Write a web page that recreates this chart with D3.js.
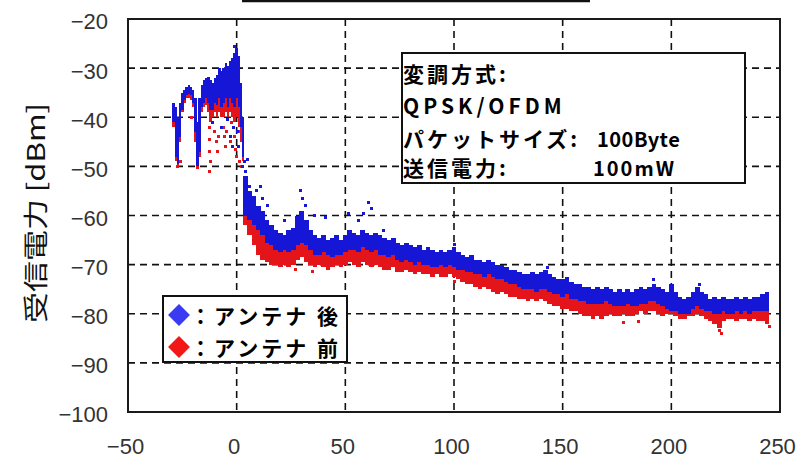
<!DOCTYPE html>
<html>
<head>
<meta charset="utf-8">
<script src="https://cdn.jsdelivr.net/npm/d3@7"></script>
<style>
  html, body { margin: 0; padding: 0; background: #fff; }
  svg { display: block; }
</style>
</head>
<body>
<svg id="chart" width="798" height="459"></svg>
<script>
// ---- axis ticks ----
const xTicks = [-50, 0, 50, 100, 150, 200, 250];
const yTicks = [-100, -90, -80, -70, -60, -50, -40, -30, -20];
const yTitle = "受信電力 [dBm]";
const seriesNames = ["：アンテナ 後", "：アンテナ 前"];
const infoLines = ["変調方式:", "QPSK/OFDM", "パケットサイズ:", "送信電力:"];
const infoValues = ["100Byte", "100mW"];

// ---- near sweep: 1 m sampling, received power envelope (hi / lo) ----
const nearX = d3.range(-29, 4, 1);
const nearBlueHi = [-37,-38,-40,-37,-35,-34.5,-33.8,-33.5,-33.8,-34.5,
                    -36,-41,-36,-33.5,-32.5,-32,-31.8,-32.5,-33,-32,
                    -31.5,-30,-30.5,-30,-29,-29.5,-28.5,-28,-27,-26,
                    -27.5,-33,-40];
const nearBlueLo = [-41,-48,-49.5,-44,-38.5,-36.5,-35.5,-35.2,-35.5,-37,
                    -43,-50,-47,-38,-37,-36,-37,-38.5,-38.5,-37,
                    -37.5,-36,-38,-37,-36,-38,-36,-37,-38,-36,
                    -38,-42,-48];
const nearRedHi  = [-38,-40,-42,-39,-36,-35.5,-35,-34.5,-35,-36,
                    -38,-43,-39,-35,-34,-33.5,-33,-34,-34.5,-33.5,
                    -33,-32,-32,-31.5,-31,-31,-30,-30,-29,-28,
                    -29,-35,-42];
const nearRedLo  = [-42,-49,-50,-45,-39,-37,-36,-36,-36.5,-38,
                    -45,-50.5,-48,-39,-38,-37.5,-39,-41,-40,-39,
                    -40,-39,-40,-40,-39,-40,-39,-40,-41,-40,
                    -42,-45,-49];

// ---- far sweep: 2 m sampling from 4 m to 244 m ----
const farX = d3.range(4, 246, 2);
const farBlueHi = [
  -52,-55,-56,-58,-59,-61,-62,-63,-63.5,-64,
  -63,-62.5,-60,-59,-61,-63,-64,-64.5,-64,-65,
  -64.5,-64,-65,-64,-63,-63.5,-64,-63,-63.5,-64,
  -63.5,-64,-64.5,-65,-64.5,-65.5,-66,-65.5,-66,-66.5,
  -66,-67,-66.5,-67,-67.5,-67,-67.5,-67,-66.5,-67.5,
  -68,-68.5,-68,-69,-69,-69.5,-69,-69.5,-70,-70,
  -70.5,-71,-71,-71.5,-72,-72,-71.5,-72,-71.5,-71,
  -72,-72.5,-73,-73,-72.5,-73.5,-74,-74,-74.5,-74.5,
  -75,-74.5,-75,-74.5,-75,-75.5,-75,-75.5,-75,-75.5,
  -75,-74.5,-75,-74.5,-74,-74.5,-75,-75.5,-74,-75.5,
  -76.5,-77,-76.5,-75.5,-74.5,-75.5,-76,-77,-76.5,-77,
  -76.5,-77,-77,-76.5,-77,-76.5,-77,-76.5,-76.5,-76,
  -75.5];
const farBlueLo = [
  -60,-61,-62,-63,-64,-65.5,-66,-67,-67.5,-67,
  -67.5,-67,-66,-65.5,-66,-67,-68,-68,-67.5,-68,
  -68.5,-68,-68,-67.5,-67,-67,-67.5,-66.5,-67,-67.5,
  -67,-68,-68,-68.5,-68,-69,-69.5,-69,-69.5,-70,
  -69.5,-70,-70,-70.5,-70.5,-70,-70.5,-70,-70.5,-71,
  -71,-71.5,-71.5,-72,-72,-72.5,-72,-72.5,-73,-73,
  -73.5,-74,-74,-74.5,-75,-75,-75,-75.5,-75,-75,
  -75.5,-76,-76,-76.5,-76,-77,-77,-77.5,-77.5,-78,
  -78,-78,-78,-77.5,-78,-78.5,-78.5,-78.5,-78,-78.5,
  -78.5,-78,-78,-77.5,-77.5,-78,-78.5,-79,-79.5,-79.5,
  -80,-80,-80,-79,-78.5,-79,-79.5,-79.5,-80,-80,
  -79.5,-80,-80,-79.5,-80,-79.5,-80,-79.5,-79.5,-79.5,
  -79.5];
const farRedHi = [
  -55,-58,-59,-61,-62,-63.5,-64.5,-65,-65.5,-66,
  -65.5,-65,-62.5,-62,-63.5,-65,-66,-66.5,-66,-67,
  -66.5,-66,-67,-66,-65.5,-65.5,-66,-65.5,-66,-66,
  -65.5,-66.5,-66.5,-67,-66.5,-67.5,-68,-67.5,-68,-68.5,
  -68,-69,-68.5,-69,-69.5,-69,-69.5,-69,-69,-69.5,
  -70,-70.5,-70.5,-71,-71.5,-71.5,-71.5,-72,-72.5,-72.5,
  -73,-73.5,-73.5,-74,-74.5,-74.5,-74,-74.5,-74,-74,
  -74.5,-75,-75.5,-75.5,-75.5,-76,-76.5,-76.5,-77,-77,
  -77.5,-77,-77.5,-77,-77,-77.5,-77.5,-77.5,-77,-77.5,
  -77.5,-77,-77,-76.5,-76.5,-77,-77.5,-78,-77.5,-78,
  -78.5,-79,-78.5,-78,-77.5,-78,-78.5,-79,-79,-79.5,
  -79,-79,-79,-79,-79,-79,-79,-79,-79,-79,
  -79];
const farRedLo = [
  -62,-64,-66,-68,-69,-69.5,-70,-70,-70.5,-70,
  -70.5,-70,-69,-68.5,-69.5,-70,-70.5,-70,-70.5,-71,
  -70.5,-70,-70.5,-70,-69.5,-70,-70.5,-69.5,-70,-70.5,
  -70,-70.5,-71,-71,-70.5,-71.5,-71.5,-71,-71.5,-72,
  -71.5,-72,-72,-72.5,-72,-72.5,-72.5,-72,-72.5,-73,
  -73.5,-74,-74,-74.5,-75,-74.5,-75,-75.5,-76,-75.5,
  -76,-76.5,-76.5,-77,-77,-77.5,-77,-77.5,-77,-77.5,
  -78,-78.5,-78.5,-79,-79,-79.5,-79.5,-80,-80.5,-80.5,
  -81,-80.5,-81,-80.5,-80,-80.5,-80.5,-80,-80.5,-80.5,
  -80,-79.5,-80,-79.5,-79.5,-80,-80.5,-80,-80,-80.5,
  -81,-81,-80.5,-80.5,-80,-80.5,-81,-81.5,-82,-83,
  -81.5,-81,-81,-81.5,-81,-81,-81.5,-81,-81.5,-81.5,
  -82];

// ---- isolated samples outside the envelope [distance, dBm] ----
const blueSpots = [
  [-1,-25.5],[-7,-42],[-3,-44],[-2,-46],[0.5,-43],[1,-46],[-11,-41],[-4,-40.5],[-1.5,-42],
  [2.5,-50],[3.5,-49],[4,-51],[4.5,-53],[5,-48.5],[6,-54],[9,-55],[11,-54],[12,-56.5],
  [14,-58],[22,-61],[29.5,-55],[30.5,-56.5],[31.5,-58],[36,-60],[41,-60.5],[51.5,-59.5],
  [56,-61],[58.5,-59.5],[60.5,-57.3],[62,-58.5],[67.5,-63],[100,-66],[143,-70.5],
  [192,-73],[213,-74]];
const redSpots = [
  [-27,-50],[-26,-49],[-21,-40],[-18,-47],[-18,-49],[-17.5,-44],[-12.5,-42],[-12.5,-44.5],
  [-12.5,-47],[-12,-49],[-12.5,-51],[-10,-43],[-9.5,-45],[-9,-47],[-8.5,-44],[-6,-42],
  [-5.5,-44],[-5,-46],[-4.5,-43],[-3,-45],[-2.5,-41],[-1,-44],[-0.5,-46.5],[0,-48],
  [1,-43],[1.5,-49],[2,-50],[27,-71],[35,-71.5],[100,-73.5],[178,-81.7],[185,-81.5],
  [222,-83.5],[223,-84],[245,-82.5]];

const BLUE = "#1616d6", RED = "#e3141a";

const svg = d3.select("#chart");
const x = d3.scaleLinear().domain([-50, 250]).range([128, 780]);
const y = d3.scaleLinear().domain([-100, -20]).range([412, 19]);

// title underline (title text sits above the visible area)
svg.append("line").attr("x1", 242).attr("x2", 590).attr("y1", 1).attr("y2", 1)
  .attr("stroke", "#111").attr("stroke-width", 2.5);

// grid
const grid = svg.append("g").attr("stroke", "#111").attr("stroke-width", 1.6)
  .attr("stroke-dasharray", "7,5");
grid.selectAll("line.h").data(yTicks.slice(1, -1)).join("line")
  .attr("x1", x(-50)).attr("x2", x(250)).attr("y1", d => y(d)).attr("y2", d => y(d));
grid.selectAll("line.v").data(xTicks.slice(1, -1)).join("line")
  .attr("y1", y(-20)).attr("y2", y(-100)).attr("x1", d => x(d)).attr("x2", d => x(d));

// envelope columns
function columns(g, xs, hi, lo, step, color) {
  const w = Math.abs(x(step) - x(0)) + 0.4;
  g.selectAll(null).data(xs.map((d, i) => [d, hi[i], lo[i]])).join("rect")
    .attr("x", d => x(d[0]) - w / 2).attr("width", w)
    .attr("y", d => y(d[1])).attr("height", d => Math.max(2.5, y(d[2]) - y(d[1])))
    .attr("fill", color);
}
function spots(g, pts, color) {
  g.selectAll(null).data(pts).join("rect")
    .attr("x", d => x(d[0]) - 1.5).attr("y", d => y(d[1]) - 1.5)
    .attr("width", 3).attr("height", 3).attr("fill", color);
}
const plot = svg.append("g").attr("shape-rendering", "crispEdges");
const gRed = plot.append("g"), gBlue = plot.append("g");
columns(gRed, nearX, nearRedHi, nearRedLo, 1, RED);
columns(gRed, farX, farRedHi, farRedLo, 2, RED);
spots(gRed, redSpots, RED);
columns(gBlue, nearX, nearBlueHi, nearBlueLo, 1, BLUE);
columns(gBlue, farX, farBlueHi, farBlueLo, 2, BLUE);
spots(gBlue, blueSpots, BLUE);

// frame
svg.append("rect").attr("x", x(-50)).attr("y", y(-20))
  .attr("width", x(250) - x(-50)).attr("height", y(-100) - y(-20))
  .attr("fill", "none").attr("stroke", "#1a1a1a").attr("stroke-width", 2);

// axes
const tickFont = "'Liberation Sans', Arial, sans-serif";
const ax = svg.append("g").attr("transform", `translate(0,${y(-100)})`)
  .call(d3.axisBottom(x).tickValues(xTicks).tickSize(0).tickPadding(26));
const ay = svg.append("g").attr("transform", `translate(${x(-50)},0)`)
  .call(d3.axisLeft(y).tickValues(yTicks).tickSize(0).tickPadding(20));
[ax, ay].forEach(a => {
  a.select(".domain").remove();
  a.selectAll("text").attr("font-family", tickFont).attr("font-size", 22)
    .attr("fill", "#333");
});
ax.selectAll("text").attr("dx", -3);
ay.selectAll("text").attr("dy", "0.45em");

svg.append("text").text(yTitle)
  .attr("transform", "translate(34,213) rotate(-90) scale(1,0.8)")
  .attr("text-anchor", "middle").attr("dominant-baseline", "central")
  .attr("font-family", "'Noto Sans CJK JP', sans-serif").attr("font-size", 31)
  .attr("fill", "#111");

// info box
const jp = "'Noto Sans CJK JP', sans-serif";
svg.append("rect").attr("x", 402).attr("y", 53).attr("width", 343).attr("height", 130)
  .attr("fill", "#fff").attr("stroke", "#111").attr("stroke-width", 2);
const infoY = [73, 105, 138, 167];
svg.selectAll("text.info").data(infoLines).join("text").attr("class", "info")
  .attr("x", 403).attr("y", (d, i) => infoY[i]).text(d => d)
  .attr("dominant-baseline", "central").attr("font-family", jp)
  .attr("font-weight", 700).attr("font-size", 21)
  .attr("letter-spacing", (d, i) => i === 1 ? 4 : 3).attr("fill", "#000");
svg.selectAll("text.val").data(infoValues).join("text").attr("class", "val")
  .attr("x", (d, i) => i === 0 ? 597 : 593).attr("y", (d, i) => infoY[i + 2]).text(d => d)
  .attr("dominant-baseline", "central").attr("font-family", jp)
  .attr("font-weight", 700).attr("font-size", 20)
  .attr("letter-spacing", (d, i) => i === 0 ? 0.5 : 2).attr("fill", "#000");

// legend
svg.append("rect").attr("x", 163).attr("y", 296).attr("width", 184).attr("height", 66)
  .attr("fill", "#fff").attr("stroke", "#111").attr("stroke-width", 2);
const legColors = ["#3a3af2", "#f21818"];
const legY = [315, 347];
const diamond = d3.symbol().type(d3.symbolSquare).size(240);
svg.selectAll("path.leg").data(seriesNames).join("path")
  .attr("d", diamond)
  .attr("transform", (d, i) => `translate(179,${legY[i]}) rotate(45)`)
  .attr("fill", (d, i) => legColors[i]);
svg.selectAll("text.leg").data(seriesNames).join("text").attr("class", "leg")
  .attr("x", 190).attr("y", (d, i) => legY[i]).text(d => d)
  .attr("dominant-baseline", "central").attr("font-family", jp)
  .attr("font-weight", 700).attr("font-size", 21).attr("letter-spacing", 3)
  .attr("fill", "#000");
</script>
</body>
</html>
